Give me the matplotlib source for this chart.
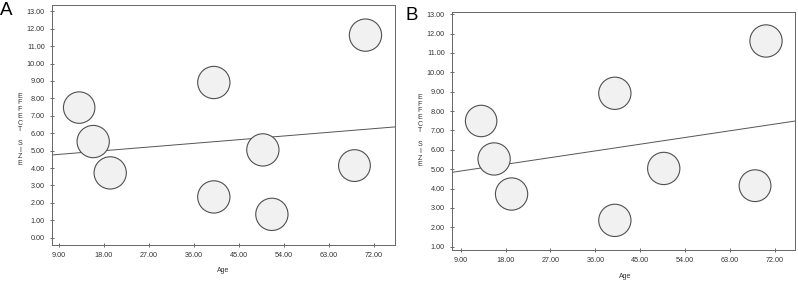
import matplotlib
matplotlib.use("Agg")
import matplotlib.pyplot as plt
import numpy as np

# ---- data ----
age_a = [13.1, 15.9, 19.3, 40.0, 40.0, 49.8, 51.6, 68.1, 70.3]
effect_a = [7.47, 5.52, 3.72, 8.91, 2.34, 5.04, 1.34, 4.14, 11.63]
weight_a = [0.95, 1.0, 1.0, 1.0, 1.0, 1.0, 1.0, 0.97, 1.0]
reg_a = (4.57, 0.0235)  # intercept, slope

age_b = [13.1, 15.7, 19.2, 39.9, 39.9, 49.7, 68.0, 70.2]
effect_b = [7.49, 5.53, 3.72, 8.92, 2.36, 5.04, 4.15, 11.62]
weight_b = [0.95, 1.0, 1.0, 1.0, 1.0, 1.0, 0.97, 1.0]
reg_b = (4.56, 0.0385)

xticks = [9, 18, 27, 36, 45, 54, 63, 72]
yticks_a = list(range(0, 14))
yticks_b = list(range(1, 14))

plt.rcParams['font.family'] = ['Liberation Sans', 'DejaVu Sans']

fig = plt.figure(figsize=(7.98, 2.83), dpi=100)
W, H = 798, 283

def make_ax(l, r, t, b):
    return fig.add_axes([l / W, 1 - b / H, (r - l) / W, (b - t) / H])

axA = make_ax(52, 395, 5, 245)
axB = make_ax(452, 795.3, 12.3, 250)

txt_col = '#333333'
line_col = '#555555'

def style(ax, x, y, w, reg, xlim, ylim, yticks):
    ax.scatter(x, y, s=np.array(w) * 540, facecolor='#f1f1f1',
               edgecolor='#505050', linewidth=0.8, zorder=3)
    xs = np.array(xlim)
    ax.plot(xs, reg[0] + reg[1] * xs, color='#555555', lw=0.7, zorder=2)
    ax.set_xlim(xlim)
    ax.set_ylim(ylim)
    ax.set_xticks(xticks)
    ax.set_xticklabels([f"{v:.2f}" for v in xticks])
    ax.set_yticks(yticks)
    ax.set_yticklabels([f"{v:.2f}" for v in yticks])
    ax.tick_params(direction='inout', length=3.5, width=0.6, color=line_col,
                   labelsize=5.2, labelcolor=txt_col, pad=3.5)
    for s in ax.spines.values():
        s.set_color('#666666')
        s.set_linewidth(0.7)

style(axA, age_a, effect_a, weight_a, reg_a, (7.67, 76.2), (-0.42, 13.36), yticks_a)
style(axB, age_b, effect_b, weight_b, reg_b, (7.26, 76.07), (0.83, 13.1), yticks_b)

ylab = "E\nF\nF\nE\nC\nT\n\nS\nI\nZ\nE"
fig.text(20 / W, 1 - 130 / H, ylab, fontsize=5.0, color=txt_col,
         ha='center', va='center', linespacing=0.95)
fig.text(420 / W, 1 - 131 / H, ylab, fontsize=5.0, color=txt_col,
         ha='center', va='center', linespacing=0.95)
fig.text(223 / W, 1 - 270 / H, "Age", fontsize=5.0, color=txt_col,
         ha='center', va='center')
fig.text(624.7 / W, 1 - 276 / H, "Age", fontsize=5.0, color=txt_col,
         ha='center', va='center')
fig.text(0 / W, 1 - 2 / H, "A", fontsize=13.5, color='black', ha='left', va='top')
fig.text(405 / W, 1 - 7 / H, "B", fontsize=13.5, color='black', ha='left', va='top')

fig.savefig("out.png", dpi=100, facecolor='white')
